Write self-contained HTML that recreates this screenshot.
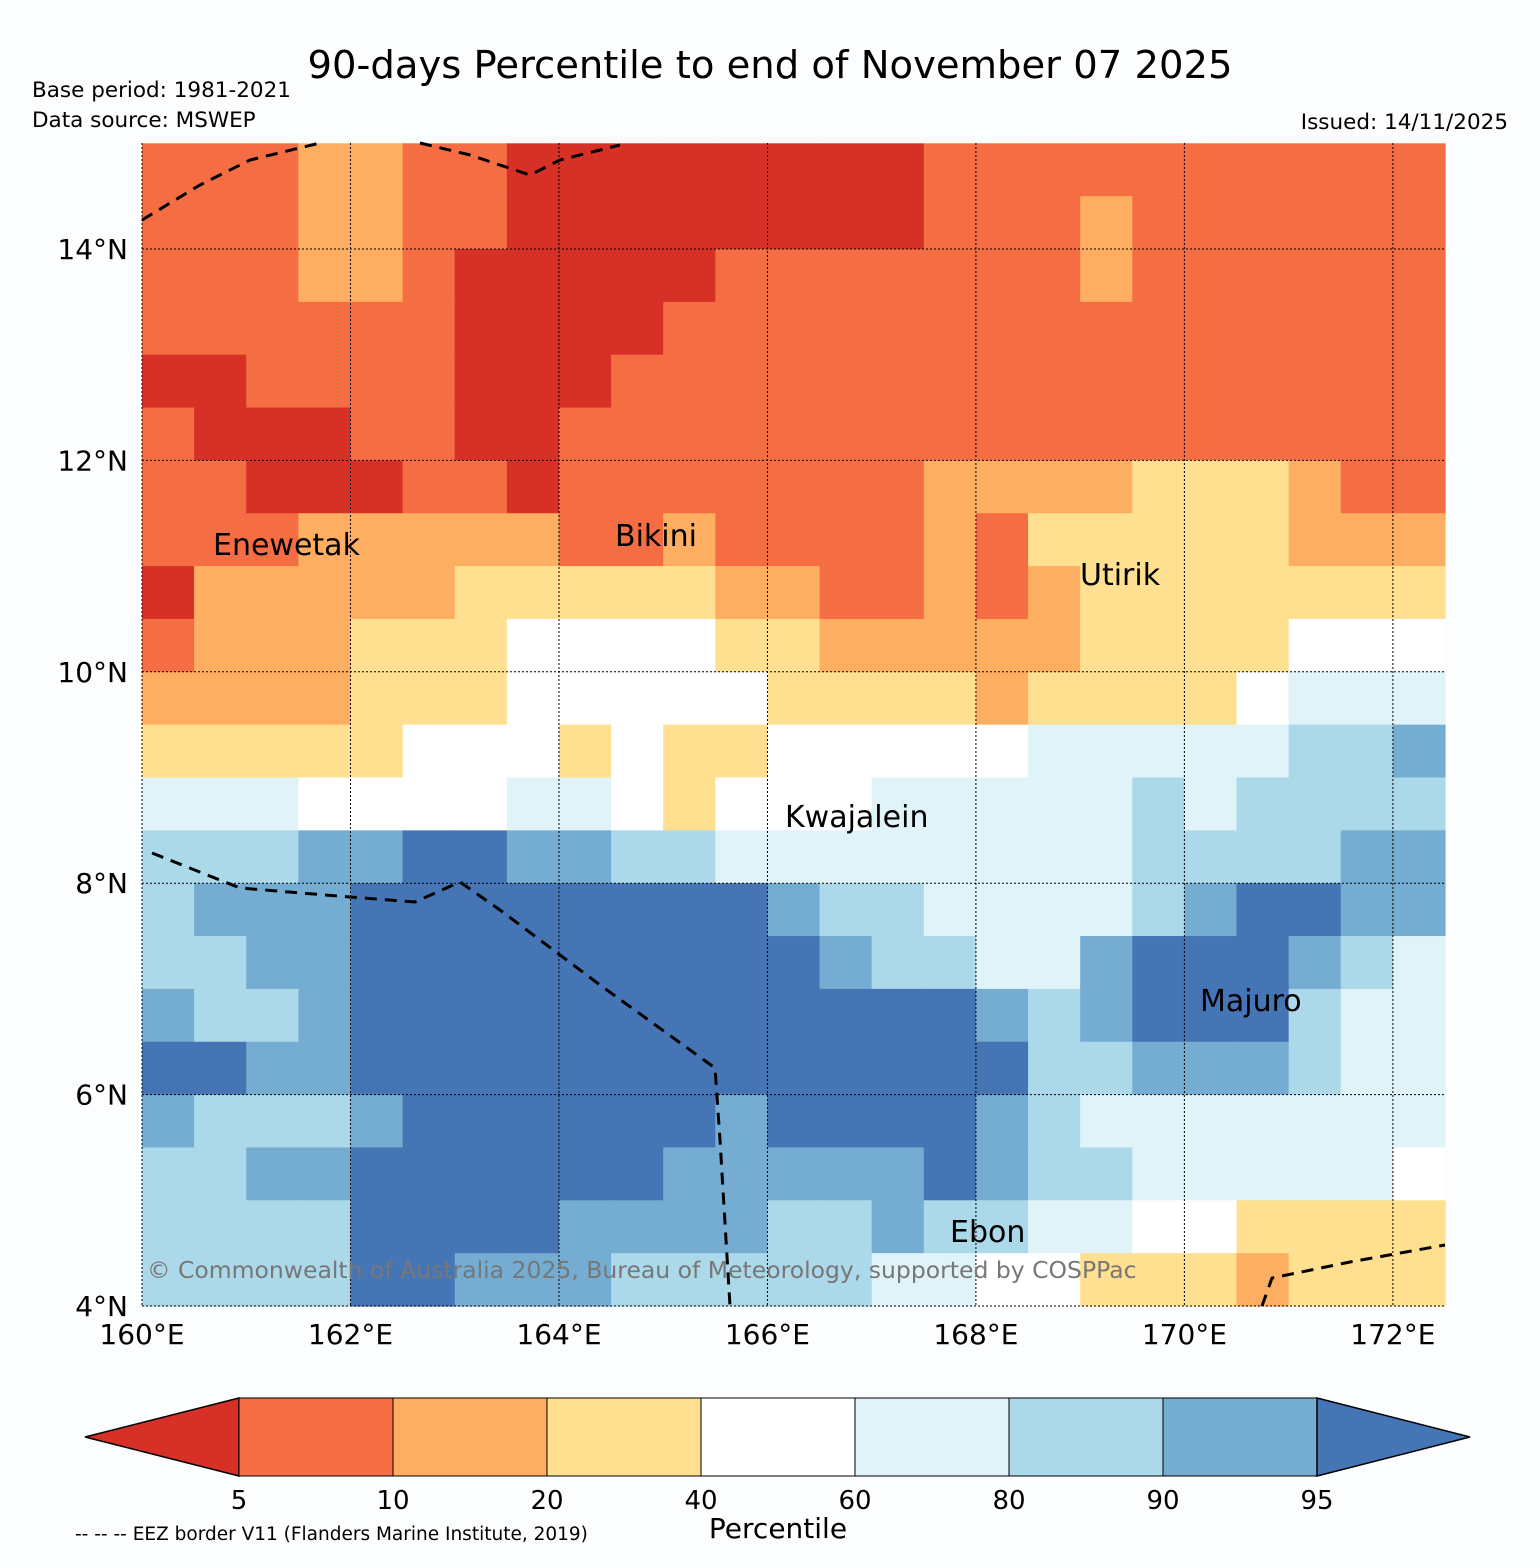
<!DOCTYPE html>
<html><head><meta charset="utf-8"><style>
body{margin:0;background:#fbfdfe;font-family:"Liberation Sans","DejaVu Sans",sans-serif;}
svg text{font-family:"DejaVu Sans","Liberation Sans",sans-serif;}
</style></head><body>
<svg id="chart" width="1540" height="1563" xmlns="http://www.w3.org/2000/svg">
<rect width="1540" height="1563" fill="#fbfdfe"/>
<text x="770" y="78" font-size="38.5" text-anchor="middle">90-days Percentile to end of November 07 2025</text>
<text x="32" y="97" font-size="21.5">Base period: 1981-2021</text>
<text x="32" y="127" font-size="21.5">Data source: MSWEP</text>
<text x="1508" y="129" font-size="21.5" text-anchor="end">Issued: 14/11/2025</text>
<g id="cells"></g>
<g id="grid"></g>
<g fill="none" stroke="#000" stroke-width="3" stroke-dasharray="12,8">
<polyline points="142,220 200,185 250,160 320,143"/>
<polyline points="420,143 470,155 530,175 560,160 620,145"/>
<polyline points="152,853 240,888 350,897 415,902 460,882 500,910 600,985 715,1068 720,1140 730,1306"/>
<polyline points="1262,1306 1272,1278 1350,1262 1445,1245"/>
</g>
<g font-size="30">
<text x="213" y="555">Enewetak</text>
<text x="615" y="546">Bikini</text>
<text x="1080" y="585">Utirik</text>
<text x="785" y="827">Kwajalein</text>
<text x="1200" y="1011">Majuro</text>
<text x="950" y="1242">Ebon</text>
</g>
<text x="147" y="1278" font-size="23.5" fill="#777">© Commonwealth of Australia 2025, Bureau of Meteorology, supported by COSPPac</text>
<g id="axes" font-size="28"></g>
<g id="cbar"></g>
<text x="778" y="1538" font-size="28" text-anchor="middle">Percentile</text>
<text x="75" y="1540" font-size="18.5">-- -- -- EEZ border V11 (Flanders Marine Institute, 2019)</text>
</svg>
<script>
const colors=["#d73027","#f46d43","#fdae61","#fee090","#ffffff","#e0f3f8","#abd9e9","#74add1","#4575b4"];
const cbLabels=["5","10","20","40","60","80","90","95"];
const lonTicks=[160,162,164,166,168,170,172];
const latTicks=[4,6,8,10,12,14];
const rows=[
"1112211000000001111111111",
"1112211000000001112111111",
"1112210000011111112111111",
"1111110000111111111111111",
"0011110001111111111111111",
"1000110011111111111111111",
"1100011011111112222333211",
"1112222211211112133333222",
"0222223333322112123333333",
"1222333444433222223333444",
"2222333444443333233334555",
"3333344434334444455555667",
"5554444554344455555656666",
"6667788776655555555666677",
"6777888888887665555678877",
"6677888888888766557888765",
"7667888888888888767888655",
"8877888888888888866777655",
"7666788888878888765555555",
"6677888888777778766555554",
"6666888877776676655443333",
"6666887776666655443332333"];
const lon0=160,lon1=172.5,lat0=4,lat1=15,X0=142,X1=1445,Y0=143,Y1=1306;
const xS=l=>X0+(l-lon0)/(lon1-lon0)*(X1-X0);
const yS=l=>Y1-(l-lat0)*(1306-249)/10;
const NS="http://www.w3.org/2000/svg";
function mk(t,a,p){const e=document.createElementNS(NS,t);for(const k in a)e.setAttribute(k,a[k]);p.appendChild(e);return e;}
const cells=document.getElementById('cells');
const step=0.5;
rows.forEach((r,j)=>{const latTop=lat1-j*step;[...r].forEach((c,i)=>{const lo=lon0+i*step;
const yt=Math.max(Y0,yS(latTop)),yb=yS(latTop-step);
const e=mk('rect',{x:xS(lo),y:yt,width:xS(lo+step)-xS(lo)+0.6,height:yb-yt+0.6,fill:colors[+c]},cells);

});});
const grid=document.getElementById('grid'),axes=document.getElementById('axes');
lonTicks.forEach(l=>{const x=xS(l);
const g=mk('line',{x1:x,x2:x,y1:Y0,y2:Y1,stroke:'#000','stroke-width':1,'stroke-dasharray':'2,2'},grid);


const t=mk('text',{x:x,y:1344,'text-anchor':'middle'},axes);t.textContent=l+'°E';

});
latTicks.forEach(l=>{const y=yS(l);
const g=mk('line',{x1:X0,x2:X1,y1:y,y2:y,stroke:'#000','stroke-width':1,'stroke-dasharray':'2,2'},grid);


const t=mk('text',{x:128,y:y+10,'text-anchor':'end'},axes);t.textContent=l+'°N';

});
const cb=document.getElementById('cbar');const cx0=239,cw=154,cy=1398,ch=78;
const lt=mk('polygon',{points:`85,${cy+ch/2} ${cx0},${cy} ${cx0},${cy+ch}`,fill:colors[0],stroke:'#000','stroke-width':1.5},cb);


for(let i=1;i<8;i++){const r=mk('rect',{x:cx0+(i-1)*cw,y:cy,width:cw,height:ch,fill:colors[i],stroke:'#000','stroke-width':1},cb);

}
const re=cx0+7*cw;
const rt=mk('polygon',{points:`${re},${cy} ${re},${cy+ch} 1470,${cy+ch/2}`,fill:colors[8],stroke:'#000','stroke-width':1.5},cb);


cbLabels.forEach((s,i)=>{const t=mk('text',{x:cx0+i*cw,y:1509,'font-size':26,'text-anchor':'middle'},cb);t.textContent=s;

});
</script>
</body></html>
